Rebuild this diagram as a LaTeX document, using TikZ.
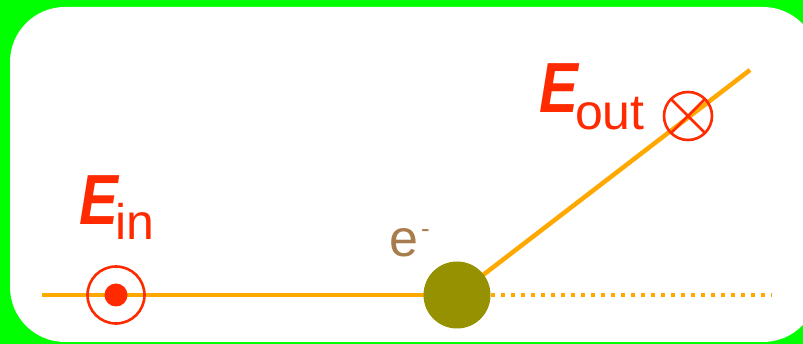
\documentclass[tikz,border=0pt]{standalone}
\usepackage{fontspec}
\setmainfont{Liberation Sans}
\usetikzlibrary{calc}
\definecolor{bggreen}{RGB}{0,255,0}
\definecolor{beam}{RGB}{255,168,0}
\definecolor{fieldred}{RGB}{255,42,0}
\definecolor{olive}{RGB}{150,145,0}
\definecolor{ebrown}{RGB}{168,124,76}
\tikzset{
  beamline/.style={draw=beam, line width=4.5pt},
  beamdots/.style={draw=beam, line width=4pt, dash pattern=on 4pt off 6pt},
  fieldring/.style={draw=fieldred, line width=2.6pt},
  lbl/.style={inner sep=0pt, outer sep=0pt, anchor=base west, text=fieldred},
}
\newcommand{\bigE}{\scalebox{0.82}[1]{\fontsize{71}{71}\selectfont\bfseries\itshape E}}
\begin{document}
\begin{tikzpicture}[x=1pt,y=-1pt]
\useasboundingbox (0,0) rectangle (803,344);
\fill[bggreen] (0,0) rectangle (803,344);
\fill[white, rounded corners=55pt] (10,7) rectangle (818,342);
% coordinates
\coordinate (left) at (42,295);
\coordinate (ball) at (457,295);
\coordinate (right) at (772,295);
\coordinate (top) at (750,70);
\coordinate (dotstart) at (491,295);
% beams
\draw[beamline] (left) -- (ball);
\draw[beamline] (ball) -- (top);
\draw[beamdots] (dotstart) -- (right);
% electron
\fill[olive] (ball) circle (33.5);
\node[inner sep=0pt, anchor=base west, text=ebrown] (e) at (389,257) {\fontsize{52}{52}\selectfont e};
\node[inner sep=0pt, anchor=base west, text=ebrown] (minus) at (421,238) {\fontsize{26}{26}\selectfont -};
% E in symbol (dot)
\coordinate (cin) at (116,295);
\draw[fieldring] (cin) circle (28.5);
\fill[fieldred] (cin) circle (11.5);
% E out symbol (cross)
\coordinate (cout) at (688,116);
\draw[fieldring] (cout) circle (24);
\draw[fieldring] ($(cout)+(45:24)$) -- ($(cout)+(225:24)$);
\draw[fieldring] ($(cout)+(135:24)$) -- ($(cout)+(315:24)$);
% labels
\node[lbl] (ein) at (79,225) {\bigE};
\node[lbl] (einsub) at (115,240) {\fontsize{50}{50}\selectfont in};
\node[lbl] (eout) at (539,113) {\bigE};
\node[lbl] (eoutsub) at (575,130) {\fontsize{50}{50}\selectfont out};
\end{tikzpicture}
\end{document}
